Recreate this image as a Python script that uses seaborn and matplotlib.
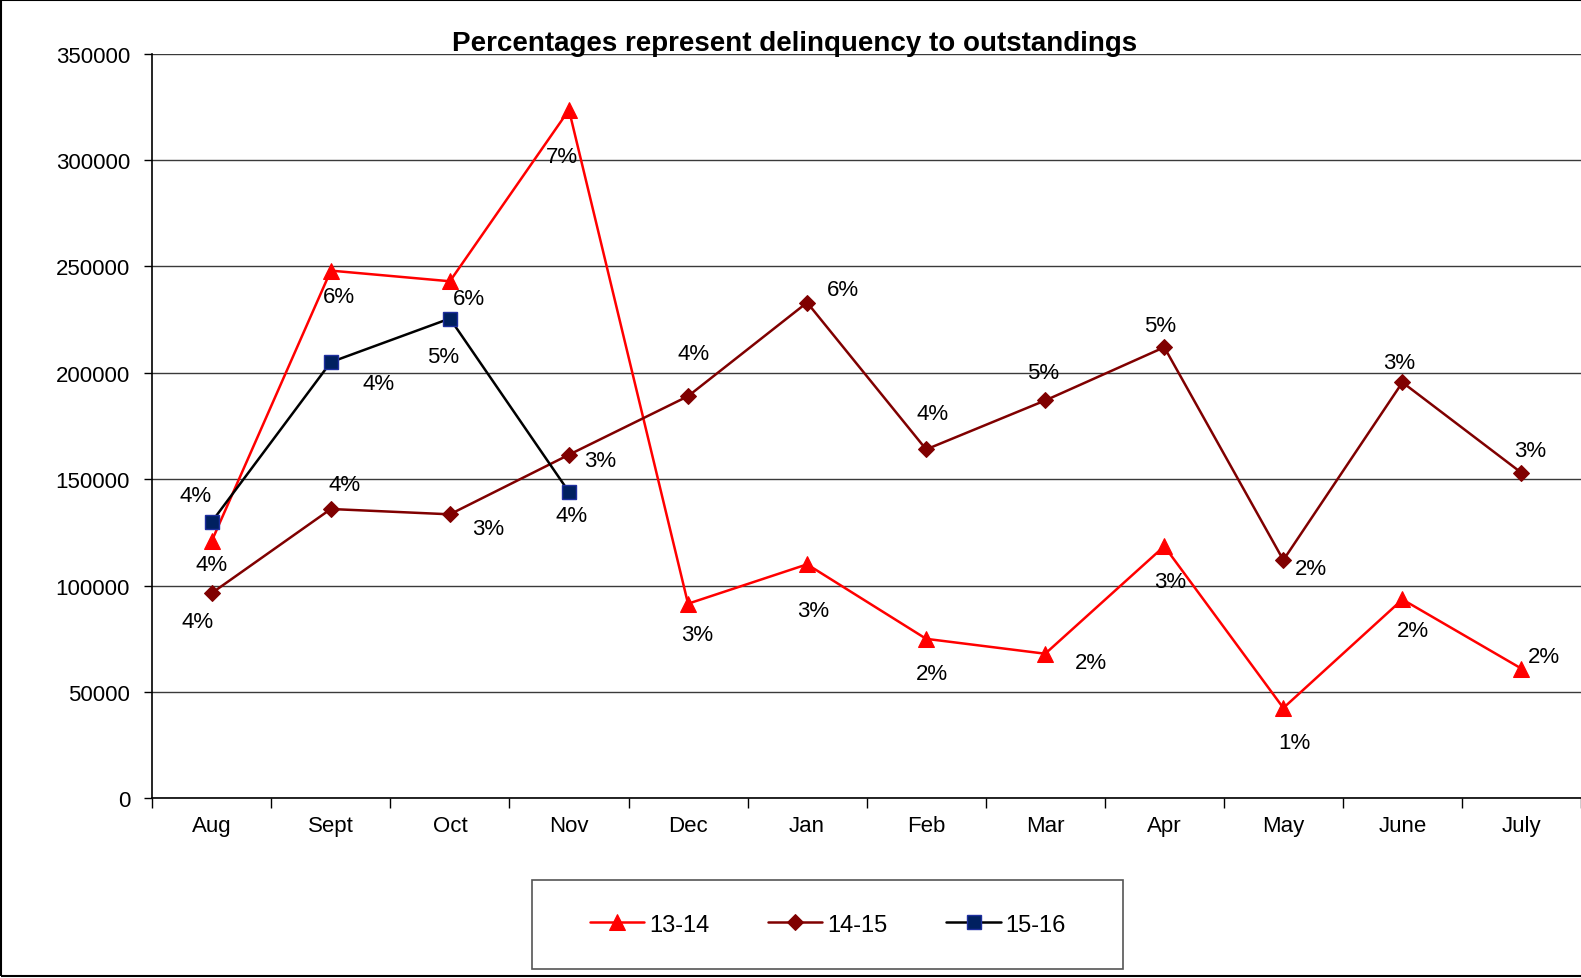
import numpy as np
import pandas as pd
import matplotlib
matplotlib.use("Agg")
import matplotlib.pyplot as plt
from matplotlib.patches import Rectangle
import seaborn as sns

# Monthly delinquency amounts by fiscal year, with delinquency-to-outstandings ratios
months = ["Aug", "Sept", "Oct", "Nov", "Dec", "Jan", "Feb", "Mar", "Apr", "May", "June", "July"]

fy1314 = [121000, 248000, 243000, 323500, 91500, 110000, 75000, 68000, 118500, 42500, 93500, 61000]
pct1314 = ["4%", "6%", "6%", "7%", "3%", "3%", "2%", "2%", "3%", "1%", "2%", "2%"]

fy1415 = [96500, 136000, 133500, 161500, 189000, 233000, 164000, 187000, 212000, 112000, 195500, 153000]
pct1415 = ["4%", "4%", "3%", "3%", "4%", "6%", "4%", "5%", "5%", "2%", "3%", "3%"]

fy1516 = [130000, 205000, 225500, 144000]
pct1516 = ["4%", "4%", "5%", "4%"]

yticks = [0, 50000, 100000, 150000, 200000, 250000, 300000, 350000]

# Label placement (pixel offsets from each marker: right, down)
off1314 = [(0, 24), (8, 26), (19, 17), (-7, 47), (9, 31), (6, 46), (6, 35), (46, 9),
           (6, 35), (11, 35), (11, 31), (22, -12)]
off1415 = [(-14, 28), (14, -24), (38, 14), (31, 6), (6, -43), (36, -13), (6, -36),
           (-2, -28), (-4, -22), (28, 8), (-3, -20), (9, -22)]
off1516 = [(-16, -26), (48, 21), (-7, 38), (3, 24)]

sns.set_theme(style="white")
plt.rcParams["font.family"] = ["Liberation Sans", "DejaVu Sans"]
plt.rcParams["text.color"] = "black"
plt.rcParams["xtick.color"] = "black"
plt.rcParams["ytick.color"] = "black"
plt.rcParams["xtick.labelcolor"] = "black"
plt.rcParams["ytick.labelcolor"] = "black"

fig = plt.figure(figsize=(15.81, 9.79), dpi=100)
ax = fig.add_axes([0.0963, 0.1834, 0.9037, 0.7609])

df = pd.DataFrame({"pos": np.arange(len(months)), "y1314": fy1314, "y1415": fy1415})
df16 = pd.DataFrame({"pos": np.arange(len(fy1516)), "y1516": fy1516})

sns.lineplot(data=df, x="pos", y="y1314", ax=ax, color="#FF0000", lw=1.8,
             marker="^", markersize=11, markeredgecolor="#FF0000", label="13-14")
sns.lineplot(data=df, x="pos", y="y1415", ax=ax, color="#800000", lw=1.8,
             marker="D", markersize=8.5, markeredgecolor="#800000", label="14-15")
sns.lineplot(data=df16, x="pos", y="y1516", ax=ax, color="#000000", lw=1.8,
             marker="s", markersize=10, markerfacecolor="#002060",
             markeredgecolor="#1F2F9F", markeredgewidth=1, label="15-16")

for vals, pcts, offs in [(fy1314, pct1314, off1314), (fy1415, pct1415, off1415),
                         (fy1516, pct1516, off1516)]:
    for i, (v, p, (dx, dy)) in enumerate(zip(vals, pcts, offs)):
        ax.annotate(p, (i, v), xytext=(dx, -dy), textcoords="offset pixels",
                    ha="center", va="center", fontsize=16, color="black")

ax.set_xlim(-0.5, len(months) - 0.5)
ax.set_ylim(0, 350000)
ax.set_yticks(yticks)
ax.set_yticklabels([str(t) for t in yticks])
ax.yaxis.grid(True, color="#3a3a3a", lw=1)
ax.xaxis.grid(False)

ax.set_xticks(np.arange(len(months)))
ax.set_xticklabels(months)
ax.set_xticks(np.arange(len(months) + 1) - 0.5, minor=True)
ax.tick_params(axis="x", which="major", length=0, pad=12, labelsize=16)
ax.tick_params(axis="x", which="minor", length=7, width=1, color="black", direction="out", bottom=True)
ax.tick_params(axis="y", which="major", length=6, width=1, color="black", direction="out",
               left=True, pad=10, labelsize=16)
ax.set_xlabel("")
ax.set_ylabel("")

for side in ["top", "right"]:
    ax.spines[side].set_visible(False)
for side in ["left", "bottom"]:
    ax.spines[side].set_color("black")
    ax.spines[side].set_linewidth(1.2)

ax.get_legend().remove()
fig.text(0.5025, 0.955, "Percentages represent delinquency to outstandings",
         ha="center", va="center", fontsize=20, fontweight="bold", color="black")

handles, labels = ax.get_legend_handles_labels()
fig.legend(handles, labels, loc="center", bbox_to_anchor=(0.5236, 0.0545), ncol=3,
           frameon=False, fontsize=17, handlelength=2.3, handletextpad=0.2,
           columnspacing=2.5, labelcolor="black")
fig.add_artist(Rectangle((0.3365, 0.0092), 0.3738, 0.0909, transform=fig.transFigure,
                         fill=False, ec="#555555", lw=1.2))

# Outer chart border
fig.add_artist(Rectangle((0.0006, 0.0025), 1.5, 0.9965, transform=fig.transFigure,
                         fill=False, ec="black", lw=1.5))

fig.savefig("out.png", dpi=100)
